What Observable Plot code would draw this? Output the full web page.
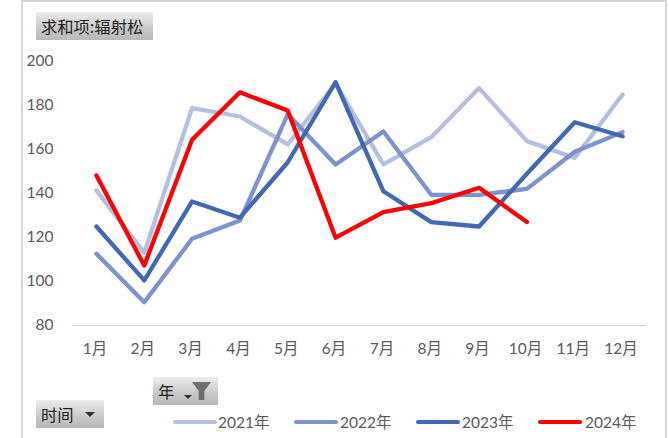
<!DOCTYPE html>
<html lang="zh">
<head>
<meta charset="utf-8">
<script src="https://cdn.jsdelivr.net/npm/d3@7"></script>
<script src="https://cdn.jsdelivr.net/npm/@observablehq/plot@0.6"></script>
<style>
html,body{margin:0;padding:0;background:#fff;overflow:hidden}
#wrap{position:relative;width:669px;height:438px;font-family:Lato,"Noto Sans CJK SC",sans-serif;color:#595959}
#wrap svg.plot{position:absolute;left:0;top:0}
.edge{position:absolute;background:#d9d9d9}
.btn{position:absolute;box-sizing:border-box;background:linear-gradient(#ededed,#c8c8c8 60%,#b8b8b8);color:#222;font-size:16.3px;line-height:28px;font-family:"Noto Sans CJK SC",sans-serif;white-space:nowrap;height:28px}
.arrow{position:absolute;width:0;height:0;border-left:5px solid transparent;border-right:5px solid transparent;border-top:5px solid #333}
.funnel{position:absolute;width:19px;height:18px;background:#6f6f6f;clip-path:polygon(0 0,100% 0,65% 50%,65% 100%,35% 100%,35% 50%)}
.sw{position:absolute;top:420px;height:4.4px;width:44px;border-radius:2.2px}
.lg{position:absolute;top:410px;font-size:15.5px;line-height:24px;color:#595959}
</style>
</head>
<body>
<div id="wrap"></div>
<script>
const months = ["1月","2月","3月","4月","5月","6月","7月","8月","9月","10月","11月","12月"];
const years = ["2021年","2022年","2023年","2024年"];
const colors = ["#b4c0e0","#7c93cf","#4169b3","#ff0000"];
const v2021 = [141.4,113,178.8,175,162.3,190,153.2,165.6,187.9,163.8,156.2,185];
const v2022 = [112.6,90.6,119.4,127.7,176,153.2,168.2,139.4,139.4,142.1,159,167.9];
const v2023 = [125,100.5,136.4,129,154.2,190.6,141,127,125,149,172.4,166];
const v2024 = [148.2,107.3,164.4,186,177.7,119.9,131.5,135.6,142.6,127];
const yTicks = [80,100,120,140,160,180,200];

const rows = [v2021,v2022,v2023,v2024].flatMap((vals,i)=>vals.map((v,j)=>({month:months[j],year:years[i],value:v})));

const chart = Plot.plot({
  width:669,height:438,
  marginLeft:72,marginRight:23,marginTop:61,marginBottom:113,
  style:{fontFamily:'Lato,"Noto Sans CJK SC",sans-serif',fontSize:"15px",color:"#595959",background:"transparent"},
  x:{type:"point",domain:months,padding:0.5,round:false,label:null},
  y:{domain:[80,200],ticks:yTicks,label:null},
  color:{domain:years,range:colors},
  marks:[
    Plot.ruleY([80],{stroke:"#d9d9d9",strokeWidth:1}),
    Plot.axisX({tickSize:0,tickPadding:17,fontSize:15.5,dx:-1.5,label:null,fill:"#595959"}),
    Plot.axisY({ticks:yTicks,tickSize:0,tickPadding:19,fontSize:15.5,label:null,fill:"#595959"}),
    Plot.line(rows,{x:"month",y:"value",z:"year",stroke:"year",strokeWidth:4.3,strokeLinecap:"round",strokeLinejoin:"round",curve:"linear"})
  ]
});
chart.classList.add("plot");
const wrap = document.getElementById("wrap");
wrap.appendChild(chart);

function el(cls,css,text){const d=document.createElement("div");d.className=cls;d.style.cssText=css;if(text)d.textContent=text;wrap.appendChild(d);return d;}
el("edge","left:21px;top:0;width:2px;height:438px");
el("edge","left:21px;top:0;width:644px;height:2px");
el("edge","left:665px;top:0;width:2px;height:438px");

el("btn","left:36px;top:12px;width:117px;padding-left:5px","求和项:辐射松");
el("btn","left:153px;top:377px;width:65px;padding-left:5px","年");
el("arrow","left:184px;top:395px;border-left-width:4px;border-right-width:4px;border-top-width:4px");
el("funnel","left:192px;top:382px");
el("btn","left:36px;top:400px;width:68px;padding-left:5px","时间");
el("arrow","left:85px;top:412px");

[173,294,416,538].forEach((x,i)=>el("sw",`left:${x}px;background:${colors[i]}`));
[218,340,462,585].forEach((x,i)=>el("lg",`left:${x}px`,years[i]));
</script>
</body>
</html>
